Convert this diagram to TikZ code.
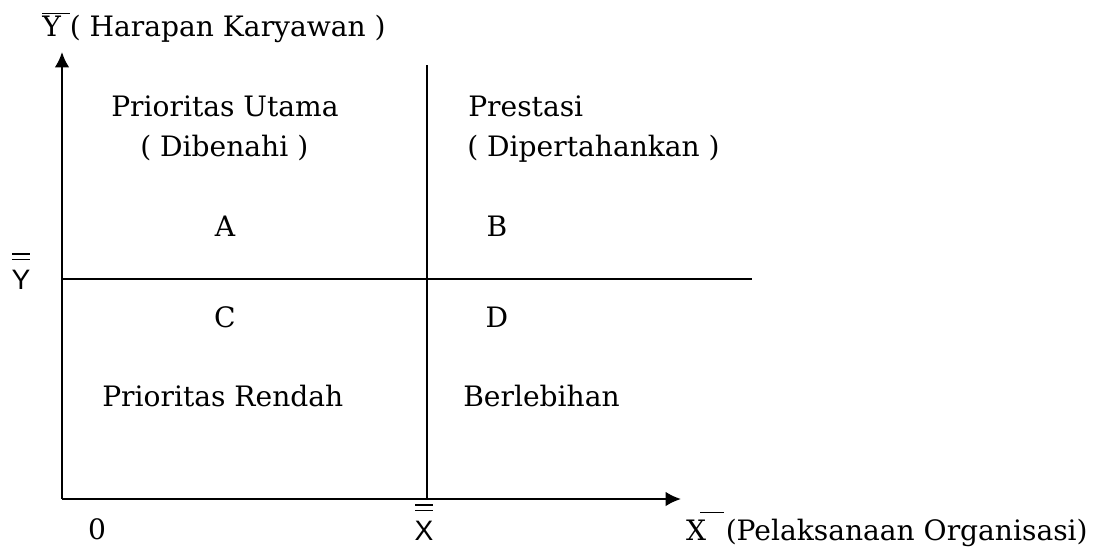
\documentclass[tikz,border=0pt]{standalone}
\usepackage{fontspec}
\setmainfont{DejaVu Serif}
\newfontfamily\axisfont{Liberation Sans}
\usetikzlibrary{arrows.meta}
% letter with a double bar above it
\newcommand{\dbar}[1]{{\axisfont\fontsize{20}{24}\selectfont\vbox{\offinterlineskip\halign{\hfil##\hfil\cr
  \rule{0.62em}{1.1pt}\cr\noalign{\kern2.6pt}\rule{0.62em}{1.1pt}\cr\noalign{\kern6.8pt}#1\cr}}}}
\begin{document}
\begin{tikzpicture}[x=0.025cm, y=-0.025cm, every node/.style={font=\fontsize{20}{24}\selectfont, inner sep=0pt}, axis/.style={line width=1.6pt, -{Latex[length=11pt, width=10.5pt]}}, divider/.style={line width=1.25pt}]
        \useasboundingbox (0,0) rectangle (1095,547);

        % Origin and axis ends
        \coordinate (origin) at (62,499);
        \coordinate (ytip) at (62,52);
        \coordinate (xtip) at (681,499);

        % Divider ends
        \coordinate (vtop) at (427,65);
        \coordinate (vbot) at (427,499);
        \coordinate (hleft) at (62,279);
        \coordinate (hright) at (752,279);

        % Axes
        \draw[axis] (origin) -- (ytip);
        \draw[axis] (origin) -- (xtip);

        % Quadrant dividers
        \draw[divider] (vtop) -- (vbot);
        \draw[divider] (hleft) -- (hright);

        % Axis labels
        \node[anchor=base west] (ylabel) at (42,36) {$\overline{\mbox{Y\ }}$( Harapan Karyawan )};
        \node[anchor=base east] (xlabel) at (1088,540) {X\kern-0.2em$\overline{\mbox{\rule{0pt}{0.9em}\hspace{0.85em}}}$\kern0.05em(Pelaksanaan Organisasi)};
        \node[anchor=base] (zero) at (97,539) {0};
        \node[anchor=base] (xbar) at (424,540) {\dbar{X}};
        \node[anchor=base] (ybar) at (21,289) {\dbar{Y}};

        % Quadrant A
        \node[anchor=base west] (utama) at (111,116) {Prioritas Utama};
        \node[anchor=base west] (dibenahi) at (140,156) {( Dibenahi )};
        \node[anchor=base] (qa) at (225,236) {A};

        % Quadrant B
        \node[anchor=base west] (prestasi) at (468,116) {Prestasi};
        \node[anchor=base west] (pertahan) at (467,156) {( Dipertahankan )};
        \node[anchor=base] (qb) at (497,236) {B};

        % Quadrant C
        \node[anchor=base] (qc) at (225,327) {C};
        \node[anchor=base west] (rendah) at (102,406) {Prioritas Rendah};

        % Quadrant D
        \node[anchor=base] (qd) at (497,327) {D};
        \node[anchor=base west] (lebih) at (463,406) {Berlebihan};
\end{tikzpicture}
\end{document}
